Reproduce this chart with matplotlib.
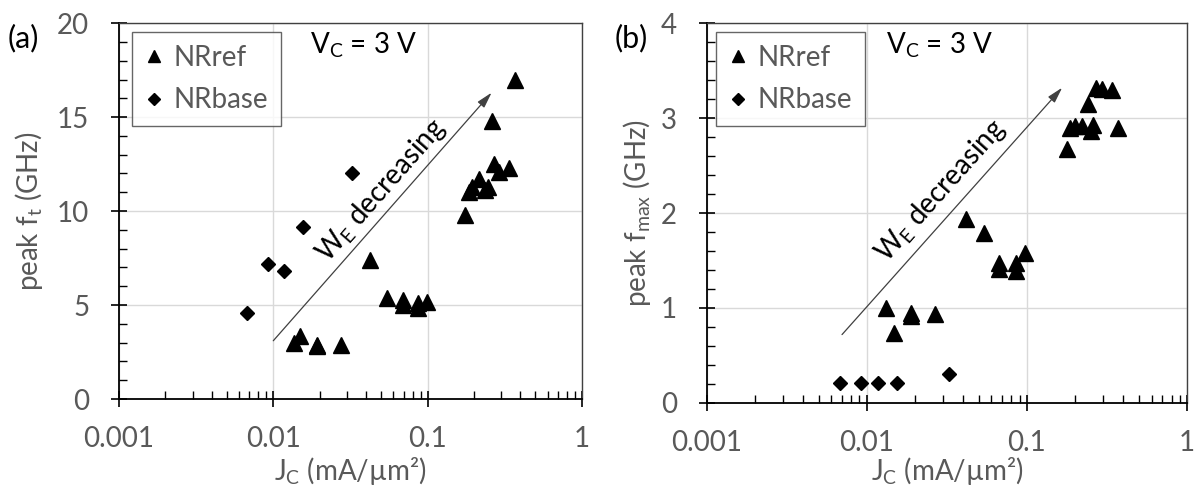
import matplotlib
matplotlib.use('Agg')
import matplotlib.pyplot as plt
from matplotlib.ticker import LogLocator, NullFormatter, MultipleLocator, FixedFormatter, FixedLocator

plt.rcParams['font.family'] = ['Lato', 'DejaVu Sans']
plt.rcParams['mathtext.fontset'] = 'custom'
plt.rcParams['mathtext.rm'] = 'Lato'
plt.rcParams['mathtext.it'] = 'Lato:italic'

# ---- data ----
jc_ref_ft = [0.0136, 0.0149, 0.0193, 0.0193, 0.0273, 0.0421, 0.0548, 0.0689, 0.069, 0.087, 0.087, 0.0986,
             0.175, 0.185, 0.195, 0.215, 0.235, 0.245, 0.26, 0.27, 0.29, 0.335, 0.37]
ft_ref = [2.96, 3.35, 2.9, 2.82, 2.87, 7.39, 5.36, 5.27, 5.0, 5.09, 4.82, 5.18,
          9.8, 11.0, 11.3, 11.7, 11.1, 11.3, 14.8, 12.5, 12.1, 12.3, 17.0]

jc_ref_fmax = [0.0131, 0.0147, 0.019, 0.019, 0.0265, 0.0416, 0.054, 0.067, 0.067, 0.085, 0.086, 0.097,
               0.179, 0.186, 0.20, 0.22, 0.24, 0.25, 0.26, 0.27, 0.295, 0.34, 0.37]
fmax_ref = [1.0, 0.74, 0.95, 0.92, 0.94, 1.94, 1.79, 1.47, 1.41, 1.47, 1.39, 1.58,
            2.67, 2.90, 2.92, 2.92, 3.15, 2.86, 2.93, 3.32, 3.31, 3.30, 2.90]

jc_base = [0.0068, 0.0092, 0.0118, 0.0155, 0.0325]
ft_base = [4.6, 7.2, 6.8, 9.15, 12.0]
fmax_base = [0.21, 0.21, 0.21, 0.21, 0.31]

GRAY = '#595959'
FS = 20

fig = plt.figure(figsize=(11.96, 4.92), dpi=100)
ax1 = fig.add_axes([0.0995, 0.189, 0.387, 0.764])
ax2 = fig.add_axes([0.5909, 0.181, 0.4016, 0.772])


def style_axis(ax, ymax, ymajor, yminor):
    ax.set_xscale('log')
    ax.set_xlim(0.001, 1)
    ax.set_ylim(0, ymax)
    ax.xaxis.set_major_locator(FixedLocator([0.001, 0.01, 0.1, 1]))
    ax.xaxis.set_major_formatter(FixedFormatter(['0.001', '0.01', '0.1', '1']))
    ax.xaxis.set_minor_locator(LogLocator(base=10, subs=range(2, 10)))
    ax.xaxis.set_minor_formatter(NullFormatter())
    ax.yaxis.set_major_locator(MultipleLocator(ymajor))
    ax.yaxis.set_minor_locator(MultipleLocator(yminor))
    ax.grid(True, which='major', color='#d9d9d9', linewidth=1.0, zorder=0)
    ax.set_axisbelow(True)
    ax.tick_params(which='major', direction='inout', length=11, width=1.2, color='black',
                   labelsize=FS, labelcolor=GRAY)
    ax.tick_params(axis='x', which='major', pad=14)
    ax.tick_params(axis='y', which='major', pad=16)
    ax.tick_params(which='minor', direction='in', length=6, width=1.0, color='black')
    for side in ['left', 'bottom']:
        ax.spines[side].set_color('black')
        ax.spines[side].set_linewidth(1.3)
    for side in ['top', 'right']:
        ax.spines[side].set_color('#404040')
        ax.spines[side].set_linewidth(1.0)


style_axis(ax1, 20, 5, 1)
style_axis(ax2, 4, 1, 0.2)

ax1.plot(jc_ref_ft, ft_ref, '^', color='black', markersize=11.5, linestyle='none', label='NRref', zorder=3)
ax1.plot(jc_base, ft_base, 'D', color='black', markersize=7.5, linestyle='none', label='NRbase', zorder=3)
ax2.plot(jc_ref_fmax, fmax_ref, '^', color='black', markersize=11.5, linestyle='none', label='NRref', zorder=3)
ax2.plot(jc_base, fmax_base, 'D', color='black', markersize=7.5, linestyle='none', label='NRbase', zorder=3)

# labels
ax1.set_ylabel('peak f$_\\mathrm{t}$ (GHz)', fontsize=FS, color=GRAY, va='center')
ax2.set_ylabel('peak f$_\\mathrm{max}$ (GHz)', fontsize=FS, color=GRAY, va='center')
ax1.yaxis.set_label_coords(-0.194, 0.5)
ax2.yaxis.set_label_coords(-0.145, 0.5)
for ax, yl in [(ax1, -0.192), (ax2, -0.179)]:
    ax.set_xlabel('J$_\\mathrm{C}$ (mA/µm²)', fontsize=FS, color=GRAY, va='center')
    ax.xaxis.set_label_coords(0.5, yl)

# legends
for ax, lx in [(ax1, 0.028), (ax2, 0.019)]:
    leg = ax.legend(loc='upper left', bbox_to_anchor=(lx, 0.976), fontsize=FS, frameon=True,
                    fancybox=False, edgecolor='#404040', handlelength=0.7, handletextpad=0.35,
                    labelspacing=0.6, borderpad=0.45, borderaxespad=0, markerscale=0.75)
    leg.get_frame().set_linewidth(1.0)
    for t in leg.get_texts():
        t.set_color(GRAY)

ax1.text(0.413, 0.94, 'V$_\\mathrm{C}$ = 3 V', transform=ax1.transAxes, fontsize=FS,
         ha='left', va='center', color='black')
ax2.text(0.374, 0.942, 'V$_\\mathrm{C}$ = 3 V', transform=ax2.transAxes, fontsize=FS,
         ha='left', va='center', color='black')

# W_E decreasing arrows
arrow_kw = dict(arrowstyle='-|>,head_length=0.8,head_width=0.22', color='#404040',
                linewidth=0.9, mutation_scale=12, shrinkA=0, shrinkB=0)
ax1.annotate('', xy=(0.26, 16.3), xytext=(0.01, 3.1), arrowprops=arrow_kw)
ax2.annotate('', xy=(0.166, 3.32), xytext=(0.007, 0.72), arrowprops=arrow_kw)
ax1.text(0.0503, 11.1, 'W$_\\mathrm{E}$ decreasing', fontsize=FS, rotation=48.7,
         rotation_mode='anchor', ha='center', va='center', color='black')
ax2.text(0.0291, 2.23, 'W$_\\mathrm{E}$ decreasing', fontsize=FS, rotation=48.3,
         rotation_mode='anchor', ha='center', va='center', color='black')

fig.text(0.006, 1 - 38 / 492, '(a)', fontsize=22, ha='left', va='center', color='black')
fig.text(0.514, 1 - 38 / 492, '(b)', fontsize=22, ha='left', va='center', color='black')

fig.savefig('out.png', dpi=100)
